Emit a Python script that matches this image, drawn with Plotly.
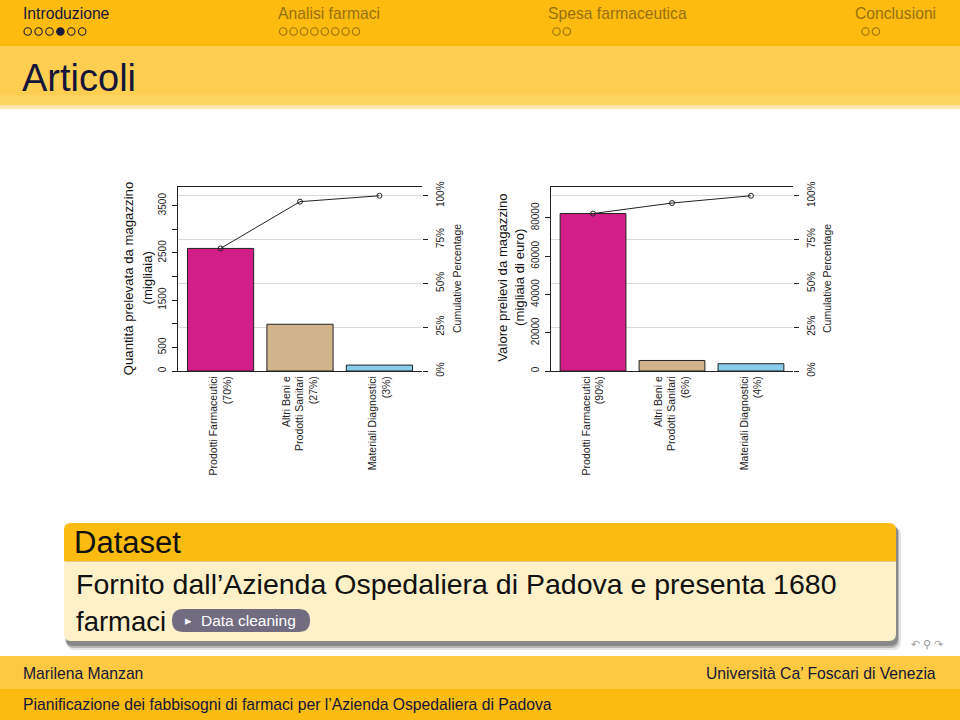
import plotly.graph_objects as go

# ---------------- data ----------------
categories = ["Prodotti Farmaceutici", "Altri Beni e<br>Prodotti Sanitari", "Materiali Diagnostici"]
quantita = [2595, 990, 125]          # migliaia
valore = [82300, 5500, 3800]         # migliaia di euro
bar_colors = ["#D31E8A", "#D2B48C", "#87CEEB"]
qty_ticks = [0, 500, 1000, 1500, 2000, 2500, 3000, 3500]
qty_ticktext = ["0", "500", "", "1500", "", "2500", "", "3500"]
val_ticks = [0, 20000, 40000, 60000, 80000]
pct_ticks = [0, 25, 50, 75, 100]
pct_ticktext = ["0%", "25%", "50%", "75%", "100%"]

W, H = 960, 720
FONT = "Liberation Sans, Arial, Helvetica, sans-serif"


def px(x):
    return x / W


def py(y):
    return 1 - y / H


def labels_with_pct(vals):
    tot = sum(vals)
    return [f"{c}<br>({round(v / tot * 100)}%)" for c, v in zip(categories, vals)]


def cum_pct(vals):
    tot = sum(vals)
    out, s = [], 0
    for v in vals:
        s += v
        out.append(s / tot * 100)
    return out


fig = go.Figure()

lab1 = labels_with_pct(quantita)
lab2 = labels_with_pct(valore)

fig.add_trace(go.Bar(x=lab1, y=quantita, xaxis="x", yaxis="y",
                     marker=dict(color=bar_colors, line=dict(color="#222222", width=1)),
                     showlegend=False, hoverinfo="skip"))
fig.add_trace(go.Scatter(x=lab1, y=cum_pct(quantita), xaxis="x", yaxis="y2",
                         mode="lines+markers",
                         line=dict(color="#222222", width=1),
                         marker=dict(symbol="circle-open", size=5, color="#222222", line=dict(width=1)),
                         showlegend=False, hoverinfo="skip"))
fig.add_trace(go.Bar(x=lab2, y=valore, xaxis="x2", yaxis="y3",
                     marker=dict(color=bar_colors, line=dict(color="#222222", width=1)),
                     showlegend=False, hoverinfo="skip"))
fig.add_trace(go.Scatter(x=lab2, y=cum_pct(valore), xaxis="x2", yaxis="y4",
                         mode="lines+markers",
                         line=dict(color="#222222", width=1),
                         marker=dict(symbol="circle-open", size=5, color="#222222", line=dict(width=1)),
                         showlegend=False, hoverinfo="skip"))

ydom = [py(371), py(187)]
tickfont = dict(family=FONT, size=10, color="#222222")

xcommon = dict(type="category", range=[-0.536, 2.536], showline=True, linecolor="#222222",
               linewidth=1, mirror=True, ticks="", tickangle=-90,
               tickfont=dict(family=FONT, size=10.5, color="#222222"),
               showgrid=False, zeroline=False, fixedrange=True, automargin=False)

ycommon = dict(showline=True, linecolor="#222222", linewidth=1, ticks="outside", ticklen=5,
               tickcolor="#222222", tickangle=-90, tickfont=tickfont, showgrid=False,
               zeroline=False, fixedrange=True, automargin=False, ticklabelstandoff=2)

y2common = dict(side="right", range=[0, 105], tickvals=pct_ticks,
                ticktext=pct_ticktext, showline=False, ticks="outside", ticklen=5,
                tickcolor="#222222", tickangle=-90, tickfont=tickfont,
                showgrid=True, gridcolor="#DADADA", gridwidth=1, zeroline=False,
                fixedrange=True, automargin=False, ticklabelstandoff=4)

tot_q = sum(quantita)
tot_v = sum(valore)

fig.update_layout(
    width=W, height=H, autosize=False,
    margin=dict(l=0, r=0, t=0, b=0, pad=0, autoexpand=False),
    paper_bgcolor="white", plot_bgcolor="rgba(0,0,0,0)",
    bargap=0.1667,
    font=dict(family=FONT),
    xaxis=dict(domain=[px(178), px(422)], anchor="y", **xcommon),
    yaxis=dict(domain=ydom, anchor="x", range=[0, tot_q * 1.05], tickvals=qty_ticks,
               ticktext=qty_ticktext, **ycommon),
    yaxis2=dict(overlaying="y", anchor="x", **y2common),
    xaxis2=dict(domain=[px(550.7), px(793.3)], anchor="y3", **xcommon),
    yaxis3=dict(domain=ydom, anchor="x2", range=[0, tot_v * 1.05], tickvals=val_ticks,
                ticktext=[str(v) for v in val_ticks], **ycommon),
    yaxis4=dict(overlaying="y3", anchor="x2", **y2common),
)

shapes = []


def rect(x0, y0, x1, y1, color, layer="below", line=None):
    shapes.append(dict(type="rect", xref="paper", yref="paper", x0=px(x0), x1=px(x1),
                       y0=py(y1), y1=py(y0), fillcolor=color, layer=layer,
                       line=line or dict(width=0)))


def rrect(x0, y0, x1, y1, r, color, top=True, bottom=True, layer="below"):
    rx, ry = r / W, r / H
    X0, X1 = px(x0), px(x1)
    Yt, Yb = py(y0), py(y1)
    rt_x, rt_y = (rx, ry) if top else (0, 0)
    rb_x, rb_y = (rx, ry) if bottom else (0, 0)
    path = (f"M {X0 + rt_x},{Yt} L {X1 - rt_x},{Yt} Q {X1},{Yt} {X1},{Yt - rt_y} "
            f"L {X1},{Yb + rb_y} Q {X1},{Yb} {X1 - rb_x},{Yb} "
            f"L {X0 + rb_x},{Yb} Q {X0},{Yb} {X0},{Yb + rb_y} "
            f"L {X0},{Yt - rt_y} Q {X0},{Yt} {X0 + rt_x},{Yt} Z")
    shapes.append(dict(type="path", xref="paper", yref="paper", path=path,
                       fillcolor=color, line=dict(width=0), layer=layer))


# header and title bands
rect(0, 0, 960, 46, "#FDBB10")
rect(0, 46, 960, 105, "#FDCE52")
rect(0, 95, 960, 105, "#FDD360")
rect(0, 105, 960, 109, "#FEE7AE")

# block shadow
rrect(67, 527, 901, 650, 8, "rgba(0,0,0,0.10)")
rrect(66, 526, 899, 648, 8, "rgba(0,0,0,0.20)")
rrect(65, 525, 898, 646, 8, "rgba(0,0,0,0.25)")
# block
rrect(64, 523, 896, 561.5, 7, "#FCBB10", top=True, bottom=False)
rrect(64, 561.5, 896, 641, 7, "#FEF0C8", top=False, bottom=True)
# button
rrect(172, 609, 310, 632, 11.5, "#716C80")

# footer
rect(0, 656, 960, 689, "#FDC942")
rect(0, 689, 960, 720, "#FCBB10")


# navigation dots
def dots(x0, n, step, filled=None, color="#1B1B3A"):
    for i in range(n):
        cx = x0 + i * step
        r = 3.7
        shapes.append(dict(type="circle", xref="paper", yref="paper",
                           x0=px(cx - r), x1=px(cx + r), y0=py(31.5 + r), y1=py(31.5 - r),
                           line=dict(color=color, width=1.1),
                           fillcolor=color if filled == i else "rgba(0,0,0,0)", layer="above"))


dots(27.7, 6, 10.9, filled=3, color="#1B1B3A")
dots(283.2, 8, 10.4, color="#97700F")
dots(556.5, 2, 10.4, color="#97700F")
dots(865.5, 2, 10.4, color="#97700F")

fig.update_layout(shapes=shapes)

ann = []


def text(x, y, s, size, color="#111111", xanchor="left", angle=0, yanchor="middle"):
    ann.append(dict(xref="paper", yref="paper", x=px(x), y=py(y), text=s, showarrow=False,
                    xanchor=xanchor, yanchor=yanchor, textangle=angle,
                    font=dict(family=FONT, size=size, color=color)))


text(21, 13, "Introduzione", 15.7, "#15153A")
text(276, 13, "Analisi farmaci", 15.7, "#97700F")
text(546, 13, "Spesa farmaceutica", 15.7, "#97700F")
text(938, 13, "Conclusioni", 15.7, "#97700F", xanchor="right")
text(20, 78, "Articoli", 38, "#15153A")

# axis titles
text(128.3, 278, "Quantità prelevata da magazzino", 13.2, "#111111", xanchor="center", angle=-90)
text(146.5, 278, "(migliaia)", 13.2, "#111111", xanchor="center", angle=-90)
text(457, 279, "Cumulative Percentage", 10.5, "#222222", xanchor="center", angle=-90)
text(501.7, 278, "Valore prelievi da magazzino", 13.2, "#111111", xanchor="center", angle=-90)
text(519, 278, "(migliaia di euro)", 13.2, "#111111", xanchor="center", angle=-90)
text(827, 279, "Cumulative Percentage", 10.5, "#222222", xanchor="center", angle=-90)

# block texts
text(72, 542, "Dataset", 31, "#111111")
text(74, 584, "Fornito dall’Azienda Ospedaliera di Padova e presenta 1680", 28.5, "#111111")
text(74, 621, "farmaci", 27.5, "#111111")
text(188, 620.5, "▸", 13, "white", xanchor="center")
text(199, 620.5, "Data cleaning", 15.5, "white")
text(927, 644, "↶ ⚲ ↷", 11, "#9A9A9A", xanchor="center")

# footer texts
text(21, 673, "Marilena Manzan", 15.7, "#15153A")
text(938, 673, "Università Ca’ Foscari di Venezia", 15.7, "#15153A", xanchor="right")
text(21, 704, "Pianificazione dei fabbisogni di farmaci per l’Azienda Ospedaliera di Padova", 15.7, "#15153A")

fig.update_layout(annotations=ann)

fig.write_html("out.html", config={"displayModeBar": False, "staticPlot": True},
               post_script="document.body.style.margin='0';")
